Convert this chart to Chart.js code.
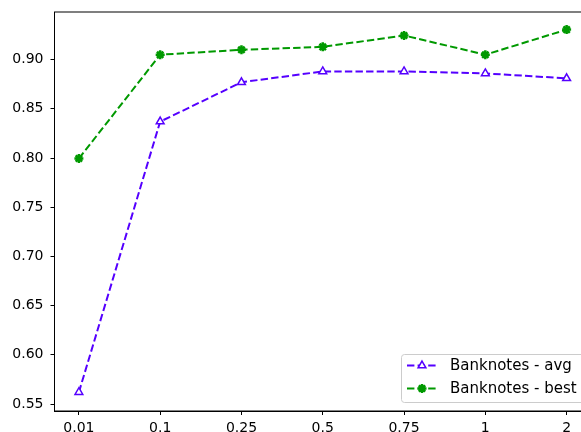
<!DOCTYPE html>
<html>
<head>
<meta charset="utf-8">
<script src="https://cdn.jsdelivr.net/npm/chart.js@4"></script>
<style>
  html, body { margin: 0; padding: 0; background: #fff; overflow: hidden; }
  #wrap { width: 600px; height: 432px; }
</style>
</head>
<body>
<div id="wrap"><canvas id="chart" width="600" height="432"></canvas></div>
<script>
// Data
const categories = ['0.01', '0.1', '0.25', '0.5', '0.75', '1', '2'];
const avgValues = [0.562, 0.837, 0.877, 0.888, 0.888, 0.886, 0.881];
const bestValues = [0.7995, 0.905, 0.910, 0.913, 0.9245, 0.905, 0.9305];
const yTicks = [0.55, 0.60, 0.65, 0.70, 0.75, 0.80, 0.85, 0.90];

const avgColor = '#5500ff';
const bestColor = '#009900';

function toPoints(values) {
    return values.map((v, i) => ({ x: i, y: v }));
}

// Frame (spines) around the plot area
const framePlugin = {
    id: 'frame',
    afterDraw(chart) {
        const { ctx, chartArea } = chart;
        ctx.save();
        ctx.strokeStyle = '#000';
        ctx.lineWidth = 1;
        ctx.strokeRect(chartArea.left, chartArea.top, chartArea.right - chartArea.left, chartArea.bottom - chartArea.top);
        ctx.restore();
    }
};

// Legend box in the lower right corner, matplotlib style
const legendPlugin = {
    id: 'boxLegend',
    afterDraw(chart) {
        const ctx = chart.ctx;
        const left = 401, top = 354, width = 190, height = 48;
        ctx.save();
        ctx.fillStyle = 'rgba(255,255,255,0.8)';
        ctx.strokeStyle = '#cccccc';
        ctx.lineWidth = 1;
        ctx.beginPath();
        ctx.roundRect(left + 0.5, top + 0.5, width, height, 3);
        ctx.fill();
        ctx.stroke();

        chart.data.datasets.forEach((ds, i) => {
            const y = 365.5 + i * 23;
            ctx.strokeStyle = ds.borderColor;
            ctx.lineWidth = ds.borderWidth;
            ctx.setLineDash(ds.borderDash);
            ctx.beginPath();
            ctx.moveTo(407, y);
            ctx.lineTo(437, y);
            ctx.stroke();
            ctx.setLineDash([]);
            ctx.fillStyle = ds.pointBackgroundColor;
            ctx.strokeStyle = ds.borderColor;
            ctx.lineWidth = ds.pointBorderWidth;
            Chart.helpers.drawPoint(ctx, {
                pointStyle: ds.pointStyle,
                radius: ds.pointRadius,
                borderWidth: ds.pointBorderWidth
            }, 422, y);
            ctx.fillStyle = '#000';
            ctx.font = '15px "DejaVu Sans"';
            ctx.textBaseline = 'middle';
            ctx.fillText(ds.label, 450, y + 1);
        });
        ctx.restore();
    }
};

document.addEventListener('DOMContentLoaded', function() {
    const ctx = document.getElementById('chart').getContext('2d');

    new Chart(ctx, {
        type: 'line',
        data: {
            datasets: [{
                label: 'Banknotes - avg',
                data: toPoints(avgValues),
                borderColor: avgColor,
                backgroundColor: '#ffffff',
                pointBackgroundColor: '#ffffff',
                pointBorderColor: avgColor,
                borderWidth: 2,
                borderDash: [7.4, 3.2],
                pointStyle: 'triangle',
                pointRadius: 4.5,
                pointBorderWidth: 1.5,
                tension: 0
            }, {
                label: 'Banknotes - best',
                data: toPoints(bestValues),
                borderColor: bestColor,
                backgroundColor: bestColor,
                pointBackgroundColor: bestColor,
                pointBorderColor: bestColor,
                borderWidth: 2,
                borderDash: [7.4, 3.2],
                pointStyle: 'star',
                pointRadius: 4.5,
                pointBorderWidth: 2.5,
                tension: 0
            }]
        },
        options: {
            responsive: false,
            animation: false,
            layout: { padding: { top: 12, right: 9, left: 0, bottom: 0 } },
            plugins: {
                legend: { display: false },
                tooltip: { enabled: false }
            },
            scales: {
                x: {
                    type: 'linear',
                    min: -0.3,
                    max: 6.3,
                    afterBuildTicks: function(scale) {
                        scale.ticks = categories.map((c, i) => ({ value: i }));
                    },
                    afterFit: function(scale) {
                        scale.height = 21;
                        scale.paddingLeft = 0;
                        scale.paddingRight = 0;
                    },
                    ticks: {
                        color: '#000',
                        font: { family: 'DejaVu Sans', size: 14 },
                        padding: 5,
                        maxRotation: 0,
                        autoSkip: false,
                        callback: function(value) {
                            return categories[value];
                        }
                    },
                    grid: { drawOnChartArea: false, color: '#000', tickLength: 4 },
                    border: { display: true, color: '#000' }
                },
                y: {
                    min: 0.5429,
                    max: 0.9484,
                    afterBuildTicks: function(scale) {
                        scale.ticks = yTicks.map(v => ({ value: v }));
                    },
                    afterFit: function(scale) {
                        scale.width = 54.5;
                        scale.paddingTop = 0;
                        scale.paddingBottom = 0;
                    },
                    ticks: {
                        color: '#000',
                        font: { family: 'DejaVu Sans', size: 14 },
                        padding: 7,
                        callback: function(value) {
                            return value.toFixed(2);
                        }
                    },
                    grid: { drawOnChartArea: false, color: '#000', tickLength: 4 },
                    border: { display: true, color: '#000' }
                }
            }
        },
        plugins: [framePlugin, legendPlugin]
    });
});
</script>
</body>
</html>
